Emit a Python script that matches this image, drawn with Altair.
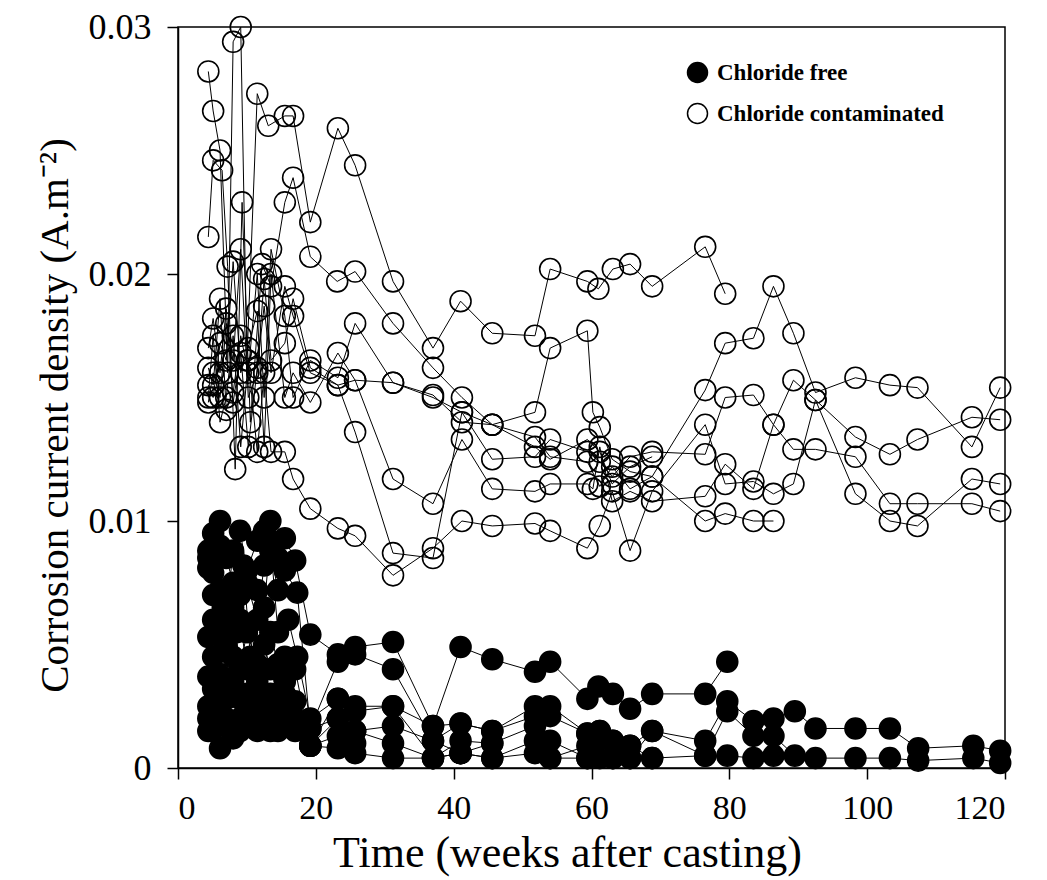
import altair as alt
import pandas as pd

# ---------- Chloride contaminated (open circles) ----------
c1_t = [4.4, 5.1, 6.1, 7.2, 8.0, 9.1, 10.0, 11.5, 13.1, 15.5, 16.7, 19.2, 23.2, 25.7, 31.2, 37.0, 41.0, 45.6, 51.8, 54.0, 59.4, 61.0, 63.1, 65.6, 68.8, 76.5, 79.4]
c1_v = [0.0282, 0.0266, 0.0250, 0.0160, 0.0294, 0.0300, 0.0165, 0.0273, 0.0260, 0.0264, 0.0264, 0.0221, 0.0259, 0.0244, 0.0197, 0.0170, 0.0189, 0.0176, 0.0175, 0.0202, 0.0197, 0.0194, 0.0202, 0.0204, 0.0195, 0.0211, 0.0192]

c2_t = [4.4, 5.1, 6.4, 7.2, 8.3, 9.3, 10.5, 12.2, 13.5, 15.5, 16.7, 19.2, 23.1, 25.7, 31.2, 37.0, 41.2, 45.6, 51.8, 54.0, 59.4, 60.2, 61.2, 63.0, 65.6, 68.8, 76.5, 79.4, 83.5, 86.4, 89.3, 92.5, 98.3, 103.3, 107.3, 115.2, 119.3]
c2_v = [0.0215, 0.0246, 0.0242, 0.0203, 0.0121, 0.0229, 0.0140, 0.0204, 0.0195, 0.0229, 0.0239, 0.0207, 0.0197, 0.0201, 0.0180, 0.0162, 0.0150, 0.0139, 0.0144, 0.0170, 0.0177, 0.0144, 0.0138, 0.0125, 0.0120, 0.0118, 0.0153, 0.0172, 0.0174, 0.0195, 0.0176, 0.0152, 0.0158, 0.0155, 0.0154, 0.0130, 0.0154]

c3_t = [4.4, 5.1, 6.1, 7.0, 8.0, 9.1, 10.2, 11.5, 12.5, 13.5, 15.5, 16.7, 19.2, 23.2, 25.7, 31.2, 37.0, 41.2, 45.6, 51.8, 54.0, 59.4, 61.2, 63.0, 65.6, 68.8, 76.5, 79.4, 83.5, 86.4, 89.3, 92.5, 98.3, 103.3, 107.3, 115.2, 119.3]
c3_v = [0.0170, 0.0182, 0.0160, 0.0186, 0.0148, 0.0168, 0.0130, 0.0162, 0.0187, 0.0160, 0.0195, 0.0183, 0.0160, 0.0155, 0.0136, 0.0087, 0.0085, 0.0144, 0.0125, 0.0126, 0.0133, 0.0128, 0.0124, 0.0118, 0.0126, 0.0128, 0.0127, 0.0150, 0.0151, 0.0139, 0.0157, 0.0149, 0.0134, 0.0127, 0.0133, 0.0142, 0.0141]

c4_t = [4.4, 5.1, 6.1, 7.0, 8.0, 9.1, 10.2, 11.5, 12.5, 13.5, 15.5, 16.7, 19.2, 23.2, 25.7, 31.2, 37.0, 41.2, 45.6, 51.8, 54.0, 59.4, 60.2, 61.2, 63.0, 65.6, 68.8, 76.5, 79.4, 83.5, 86.4, 89.3, 92.5, 98.3, 103.3, 107.3, 115.2, 119.3]
c4_v = [0.0155, 0.0150, 0.0172, 0.0165, 0.0205, 0.0160, 0.0170, 0.0185, 0.0130, 0.0200, 0.0150, 0.0160, 0.0148, 0.0168, 0.0157, 0.0117, 0.0107, 0.0133, 0.0113, 0.0112, 0.0115, 0.0115, 0.0113, 0.0130, 0.0108, 0.0112, 0.0108, 0.0110, 0.0123, 0.0113, 0.0139, 0.0129, 0.0129, 0.0126, 0.0107, 0.0107, 0.0107, 0.0104]

c5_t = [4.4, 5.1, 6.1, 7.0, 8.0, 9.1, 10.2, 11.5, 12.5, 13.5, 15.5, 16.7, 19.2, 23.2, 25.7, 31.2, 37.0, 41.2, 45.6, 51.8, 54.0, 59.4, 61.2, 63.0, 65.6, 68.8, 76.5, 79.4, 83.5, 86.4, 89.3, 92.5, 98.3, 103.3, 107.3, 115.2, 119.3]
c5_v = [0.0150, 0.0175, 0.0140, 0.0150, 0.0175, 0.0130, 0.0165, 0.0128, 0.0160, 0.0128, 0.0128, 0.0117, 0.0105, 0.0097, 0.0094, 0.0078, 0.0089, 0.0100, 0.0098, 0.0099, 0.0096, 0.0089, 0.0098, 0.0112, 0.0088, 0.0112, 0.0139, 0.0115, 0.0116, 0.0111, 0.0115, 0.0149, 0.0111, 0.0100, 0.0098, 0.0117, 0.0115]

c6_t = [4.4, 5.1, 6.1, 7.0, 8.0, 9.1, 10.2, 11.5, 12.5, 13.5, 15.5, 16.7, 19.2, 23.2, 25.7, 31.2, 37.0, 41.2, 45.6, 51.8, 54.0, 59.4, 61.2, 63.0, 65.6, 68.8, 76.5, 79.4, 83.5, 86.4]
c6_v = [0.0162, 0.0155, 0.0190, 0.0145, 0.0152, 0.0175, 0.0160, 0.0200, 0.0150, 0.0210, 0.0183, 0.0150, 0.0165, 0.0158, 0.0180, 0.0156, 0.0151, 0.0140, 0.0139, 0.0134, 0.0126, 0.0124, 0.0114, 0.0122, 0.0113, 0.0118, 0.0100, 0.0103, 0.0100, 0.0100]

c7_t = [4.4, 5.1, 6.1, 7.0, 8.0, 9.1, 10.2, 11.5, 12.5, 13.5, 15.5, 16.7, 19.2, 23.2, 25.7, 31.2, 37.0, 41.2, 45.6, 51.8, 54.0, 59.4, 61.2, 63.0, 65.6, 68.8]
c7_v = [0.0148, 0.0160, 0.0150, 0.0180, 0.0165, 0.0210, 0.0150, 0.0160, 0.0198, 0.0165, 0.0172, 0.0190, 0.0162, 0.0155, 0.0157, 0.0156, 0.0150, 0.0144, 0.0139, 0.0130, 0.0125, 0.0133, 0.0128, 0.0115, 0.0122, 0.0126]

# ---------- Chloride free (filled circles) ----------
f1_t = [4.4, 5.1, 6.1, 7.0, 8.0, 9.0, 10.0, 11.5, 12.5, 13.4, 14.5, 15.5, 17.0, 19.2, 23.2, 25.7, 31.2, 37.0, 41.0, 45.6, 51.8, 54.0, 59.4, 61.0, 63.1, 65.6, 68.8, 76.5, 79.7]
f1_v = [0.0088, 0.0095, 0.0100, 0.0085, 0.0075, 0.0096, 0.0080, 0.0092, 0.0096, 0.0100, 0.0085, 0.0093, 0.0084, 0.0054, 0.0046, 0.0049, 0.0051, 0.0017, 0.0049, 0.0044, 0.0039, 0.0043, 0.0028, 0.0033, 0.0030, 0.0024, 0.0030, 0.0030, 0.0043]

f2_t = [4.4, 5.1, 6.1, 7.0, 8.0, 9.0, 10.0, 11.5, 12.5, 13.4, 14.5, 15.5, 17.3, 19.2, 23.2, 25.7, 31.2, 37.0, 41.0, 45.6, 51.8, 54.0, 59.4, 61.2, 63.1, 65.6, 68.8, 76.5, 79.7, 83.5, 86.4, 89.5, 92.5, 98.3, 103.3, 107.4, 115.4, 119.3]
f2_v = [0.0081, 0.0070, 0.0090, 0.0062, 0.0088, 0.0070, 0.0075, 0.0060, 0.0082, 0.0088, 0.0072, 0.0080, 0.0071, 0.0016, 0.0043, 0.0046, 0.0040, 0.0011, 0.0018, 0.0015, 0.0025, 0.0021, 0.0014, 0.0015, 0.0011, 0.0009, 0.0015, 0.0011, 0.0027, 0.0019, 0.0020, 0.0023, 0.0016, 0.0016, 0.0016, 0.0008, 0.0009, 0.0007]

f3_t = [4.4, 5.1, 6.1, 7.0, 8.0, 9.0, 10.0, 11.5, 12.5, 13.4, 14.5, 15.5, 17.0, 19.2, 23.2, 25.7, 31.2, 37.0, 41.0, 45.6, 51.8, 54.0, 59.4, 60.2, 63.1, 65.6, 68.8, 76.5, 79.7, 83.5, 86.4, 89.5, 92.5, 98.3, 103.3, 107.4, 115.4, 119.3]
f3_v = [0.0053, 0.0060, 0.0072, 0.0050, 0.0065, 0.0040, 0.0055, 0.0042, 0.0040, 0.0055, 0.0042, 0.0045, 0.0040, 0.0009, 0.0028, 0.0023, 0.0025, 0.0004, 0.0011, 0.0010, 0.0017, 0.0011, 0.0004, 0.0009, 0.0004, 0.0004, 0.0004, 0.0005, 0.0023, 0.0013, 0.0013, 0.0005, 0.0004, 0.0004, 0.0004, 0.0003, 0.0004, 0.0002]

f4_t = [4.4, 5.1, 6.1, 7.0, 8.0, 9.0, 10.0, 11.5, 12.5, 13.4, 14.5, 15.5, 17.0, 19.2, 23.2, 25.7, 31.2, 37.0, 41.0, 45.6, 51.8, 54.0, 59.4, 61.2, 63.1, 65.6, 68.8, 76.5, 79.7, 83.5, 86.4]
f4_v = [0.0037, 0.0025, 0.0030, 0.0020, 0.0035, 0.0020, 0.0018, 0.0025, 0.0018, 0.0015, 0.0020, 0.0018, 0.0027, 0.0009, 0.0013, 0.0015, 0.0017, 0.0011, 0.0006, 0.0004, 0.0011, 0.0004, 0.0004, 0.0015, 0.0011, 0.0004, 0.0015, 0.0005, 0.0005, 0.0004, 0.0005]

f5_t = [4.4, 5.1, 6.1, 7.0, 8.0, 9.0, 10.0, 11.5, 12.5, 13.4, 14.5, 15.5, 17.0, 19.2, 23.2, 25.7, 31.2, 37.0, 41.0, 45.6, 51.8, 54.0, 59.4, 61.2, 63.1, 65.6, 68.8]
f5_v = [0.0020, 0.0015, 0.0008, 0.0018, 0.0012, 0.0015, 0.0020, 0.0015, 0.0020, 0.0019, 0.0015, 0.0022, 0.0015, 0.0009, 0.0008, 0.0006, 0.0004, 0.0004, 0.0006, 0.0004, 0.0006, 0.0004, 0.0009, 0.0004, 0.0004, 0.0009, 0.0004]

f6_t = [4.4, 5.1, 6.5, 7.5, 8.5, 9.5, 10.5, 11.5, 12.5, 13.4, 14.5, 16.0, 17.3, 19.2, 23.2, 25.7, 31.2, 37.0, 41.0, 45.6, 51.8, 54.0, 59.4]
f6_v = [0.0085, 0.0079, 0.0065, 0.0072, 0.0055, 0.0082, 0.0045, 0.0072, 0.0065, 0.0092, 0.0055, 0.0060, 0.0045, 0.0020, 0.0028, 0.0025, 0.0025, 0.0017, 0.0018, 0.0015, 0.0021, 0.0025, 0.0014]

f7_t = [4.4, 5.1, 6.1, 7.0, 8.0, 9.0, 10.0, 11.5, 12.5, 13.4, 14.5, 15.5, 17.0, 19.2, 23.2, 25.7, 31.2, 37.0, 41.0, 45.6]
f7_v = [0.0025, 0.0045, 0.0055, 0.0035, 0.0045, 0.0060, 0.0040, 0.0035, 0.0050, 0.0040, 0.0030, 0.0035, 0.0020, 0.0016, 0.0020, 0.0015, 0.0010, 0.0004, 0.0006, 0.0010]

f8_t = [4.4, 5.1, 6.1, 7.0, 8.0, 9.0, 10.0, 11.5, 12.5, 13.4, 14.5, 15.5, 17.0, 19.2, 23.2, 25.7]
f8_v = [0.0015, 0.0032, 0.0038, 0.0028, 0.0015, 0.0028, 0.0030, 0.0020, 0.0028, 0.0030, 0.0025, 0.0030, 0.0018, 0.0009, 0.0020, 0.0010]

groups = ["Chloride free", "Chloride contaminated"]

series = [
    ("f1", groups[0], f1_t, f1_v), ("f2", groups[0], f2_t, f2_v),
    ("f3", groups[0], f3_t, f3_v), ("f4", groups[0], f4_t, f4_v),
    ("f5", groups[0], f5_t, f5_v), ("f6", groups[0], f6_t, f6_v),
    ("f7", groups[0], f7_t, f7_v), ("f8", groups[0], f8_t, f8_v),
    ("c1", groups[1], c1_t, c1_v), ("c2", groups[1], c2_t, c2_v),
    ("c3", groups[1], c3_t, c3_v), ("c4", groups[1], c4_t, c4_v),
    ("c5", groups[1], c5_t, c5_v), ("c6", groups[1], c6_t, c6_v),
    ("c7", groups[1], c7_t, c7_v),
]

rows = []
for name, grp, ts, vs in series:
    for t, v in zip(ts, vs):
        rows.append({"t": t, "v": v, "series": name, "group": grp})
df = pd.DataFrame(rows)

FONT = "Liberation Serif"

x_enc = alt.X(
    "t:Q",
    scale=alt.Scale(domain=[0, 120], nice=False, zero=False),
    axis=alt.Axis(
        values=[0, 20, 40, 60, 80, 100, 120],
        title="Time (weeks after casting)",
        labelFontSize=34, titleFontSize=44,
        labelPadding=12, titlePadding=6,
        titleX=389, titleAlign="center",
    ),
)
y_enc = alt.Y(
    "v:Q",
    scale=alt.Scale(domain=[0, 0.03], nice=False),
    axis=alt.Axis(
        values=[0, 0.01, 0.02, 0.03],
        format=".2~f",
        title="Corrosion current density (A.m⁻²)",
        labelFontSize=36, titleFontSize=41,
        labelPadding=16, titlePadding=12,
        titleY=388,
    ),
)

lines = alt.Chart(df).mark_line(color="black", strokeWidth=1).encode(
    x=x_enc, y=y_enc, detail="series:N"
)

points = alt.Chart(df).mark_point(
    shape="circle", size=440, stroke="black", strokeWidth=1.6, opacity=1
).encode(
    x=x_enc,
    y=y_enc,
    fill=alt.Fill(
        "group:N",
        scale=alt.Scale(domain=groups, range=["black", "transparent"]),
        legend=alt.Legend(
            title=None,
            orient="none",
            legendX=508,
            legendY=34,
            symbolType="circle",
            symbolSize=400,
            symbolStrokeColor="black",
            symbolStrokeWidth=1.5,
            labelFont=FONT,
            labelFontSize=23,
            labelFontWeight="bold",
            labelColor="black",
            labelLimit=0,
            rowPadding=14,
            labelOffset=8,
        ),
    ),
)

chart = (
    alt.layer(lines, points)
    .properties(
        width=827,
        height=741,
        autosize=alt.AutoSizeParams(type="none"),
        padding={"left": 178, "top": 27, "right": 42, "bottom": 112},
        background="white",
    )
    .configure_view(stroke="black", strokeWidth=1.5)
    .configure_axis(
        grid=False,
        domainColor="black",
        domainWidth=1.5,
        tickColor="black",
        tickWidth=1.5,
        tickSize=11,
        labelFont=FONT,
        labelColor="black",
        titleFont=FONT,
        titleColor="black",
        titleFontWeight="normal",
    )
)

chart.save("out.html", embed_options={"renderer": "svg", "actions": False})
